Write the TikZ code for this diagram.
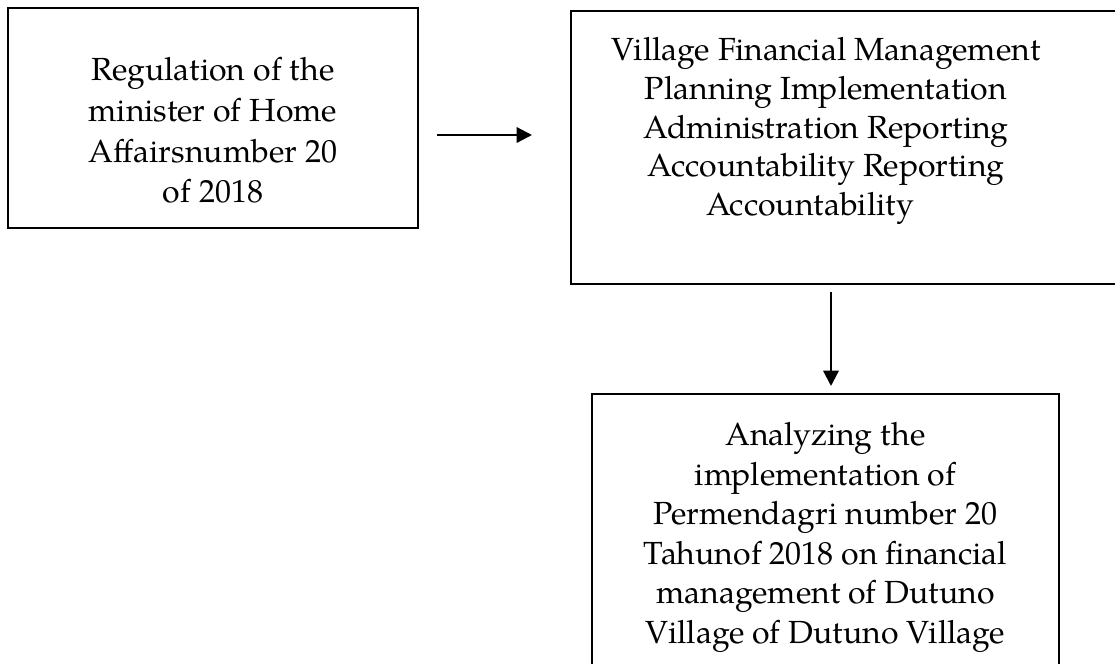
\documentclass[tikz,border=0pt]{standalone}
\usepackage{fontspec}
\setmainfont{TeX Gyre Pagella}
\usetikzlibrary{arrows.meta}
\tikzset{
  box/.style={draw=black, line width=1.1pt, inner sep=0pt, outer sep=0pt, fill=none},
  txt/.style={align=center, inner sep=0pt, text=black},
  arr/.style={line width=1.7pt, -{Triangle[length=11.5pt,width=11.5pt]}}
}
\begin{document}
\begin{tikzpicture}[x=0.75pt,y=-0.75pt]
\useasboundingbox[fill=white] (0,0) rectangle (1115,664);
\node[box, minimum width=307.5pt, minimum height=165pt] (b1) at (213,118) {};
\node[box, minimum width=409.5pt, minimum height=204.75pt] (b2) at (844,147.5) {};
\node[box, line width=1.5pt, minimum width=350.25pt, minimum height=217.5pt] (b3) at (825.5,539) {};
\node[txt, font=\fontsize{24}{30.5}\selectfont] (t1) at (213,130.5)
  {Regulation of the\\minister of Home\\Affairsnumber 20\\of 2018};
\node[txt, font=\fontsize{24}{29.1}\selectfont] (t2) at (826,131)
  {Village Financial Management\\Planning Implementation\\Administration Reporting\\Accountability Reporting\\Accountability\hspace*{24pt}};
\node[txt, font=\fontsize{24}{29.7}\selectfont] (t3) at (825.5,537.5)
  {Analyzing the\\implementation of\\Permendagri number 20\\Tahunof 2018 on financial\\management of Dutuno\\Village of Dutuno Village};
\coordinate (a1) at (0,135);
\coordinate (a2) at (831,0);
\draw[arr, shorten <=14.25pt, shorten >=29.25pt] (b1.east |- a1) -- (b2.west |- a1);
\draw[arr, shorten <=6pt, shorten >=6pt] (b2.south -| a2) -- (b3.north -| a2);
\end{tikzpicture}
\end{document}
